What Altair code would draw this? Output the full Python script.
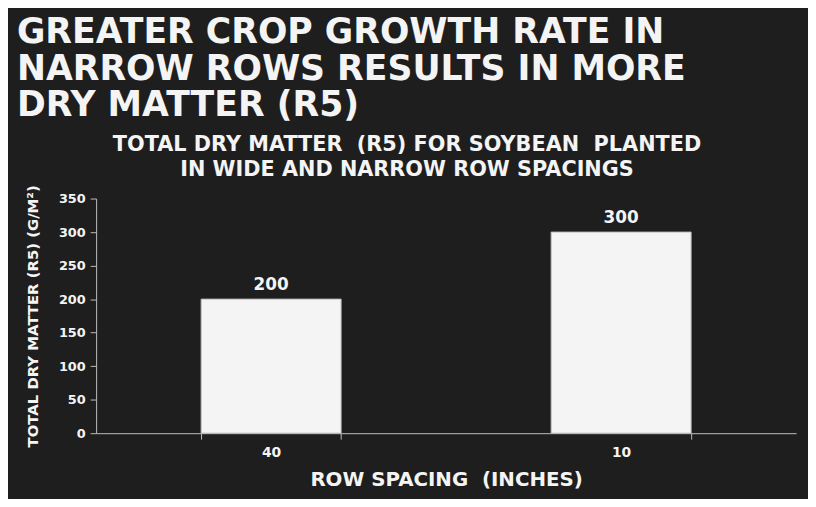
import altair as alt
import pandas as pd

# ---- data ----
row_spacing = ["40", "10"]
dry_matter = [200, 300]
y_ticks = [0, 50, 100, 150, 200, 250, 300, 350]

NB = "\u00a0"
title_lines = [
    "GREATER CROP GROWTH RATE IN",
    "NARROW ROWS RESULTS IN MORE",
    "DRY MATTER (R5)",
]
subtitle_lines = [
    f"TOTAL DRY MATTER {NB}(R5) FOR SOYBEAN {NB}PLANTED",
    "IN WIDE AND NARROW ROW SPACINGS",
]
x_title = f"ROW SPACING {NB}(INCHES)"
y_title = "TOTAL DRY MATTER (R5) (G/M²)"

df = pd.DataFrame({"spacing": row_spacing, "dm": dry_matter})
one = pd.DataFrame({"k": [0]})

BG = "#1e1e1e"
FG = "#f4f4f4"
AX = "#bdbdbd"
FONT = "DejaVu Sans"

W, H = 707, 237

x_enc = alt.X(
    "spacing:N",
    sort=row_spacing,
    scale=alt.Scale(paddingInner=0.6, paddingOuter=0.3),
    axis=alt.Axis(
        title=x_title,
        labelAngle=0,
        domainColor=AX,
        tickColor=AX,
        tickBand="extent",
        tickSize=6,
        labelColor=FG,
        labelFont=FONT,
        labelFontWeight="bold",
        labelFontSize=14,
        labelPadding=7,
        titleColor=FG,
        titleFont=FONT,
        titleFontWeight="bold",
        titleFontSize=20,
        titleY=53,
        titleBaseline="alphabetic",
    ),
)
y_enc = alt.Y(
    "dm:Q",
    scale=alt.Scale(domain=[0, 350], nice=False),
    axis=alt.Axis(
        title=y_title,
        values=y_ticks,
        labelOverlap=False,
        grid=False,
        domainColor=AX,
        tickColor=AX,
        tickSize=6,
        labelColor=FG,
        labelFont=FONT,
        labelFontWeight="bold",
        labelFontSize=13,
        labelPadding=5,
        titleColor=FG,
        titleFont=FONT,
        titleFontWeight="bold",
        titleFontSize=15,
        titleX=-64,
        titleY=H / 2,
        titleAlign="center",
        titleBaseline="middle",
        titleAngle=270,
    ),
)

bars = alt.Chart(df).mark_bar(color="#f4f4f4", stroke="#b8b8b8", strokeWidth=1).encode(
    x=x_enc, y=y_enc
)

labels = alt.Chart(df).mark_text(
    font=FONT, fontWeight="bold", fontSize=17, color=FG, baseline="alphabetic", dy=-9
).encode(
    x=x_enc,
    y=y_enc,
    text=alt.Text("dm:Q", format="d"),
)

title = alt.Chart(one).mark_text(
    text=title_lines,
    font=FONT,
    fontWeight="bold",
    fontSize=35,
    lineHeight=37,
    color=FG,
    align="left",
    baseline="alphabetic",
).encode(x=alt.value(-80), y=alt.value(-157))

subtitle = alt.Chart(one).mark_text(
    text=subtitle_lines,
    font=FONT,
    fontWeight="bold",
    fontSize=21,
    lineHeight=25,
    color=FG,
    align="center",
    baseline="alphabetic",
).encode(x=alt.value(314), y=alt.value(-48))

chart = (
    alt.layer(bars, labels, title, subtitle)
    .properties(
        width=W,
        height=H,
        autosize=alt.AutoSizeParams(type="none"),
        padding={"left": 89, "top": 190, "right": 12, "bottom": 64},
        background=BG,
    )
    .configure_view(stroke=None)
)

chart.save("out.html", embed_options={"renderer": "svg", "actions": False})
